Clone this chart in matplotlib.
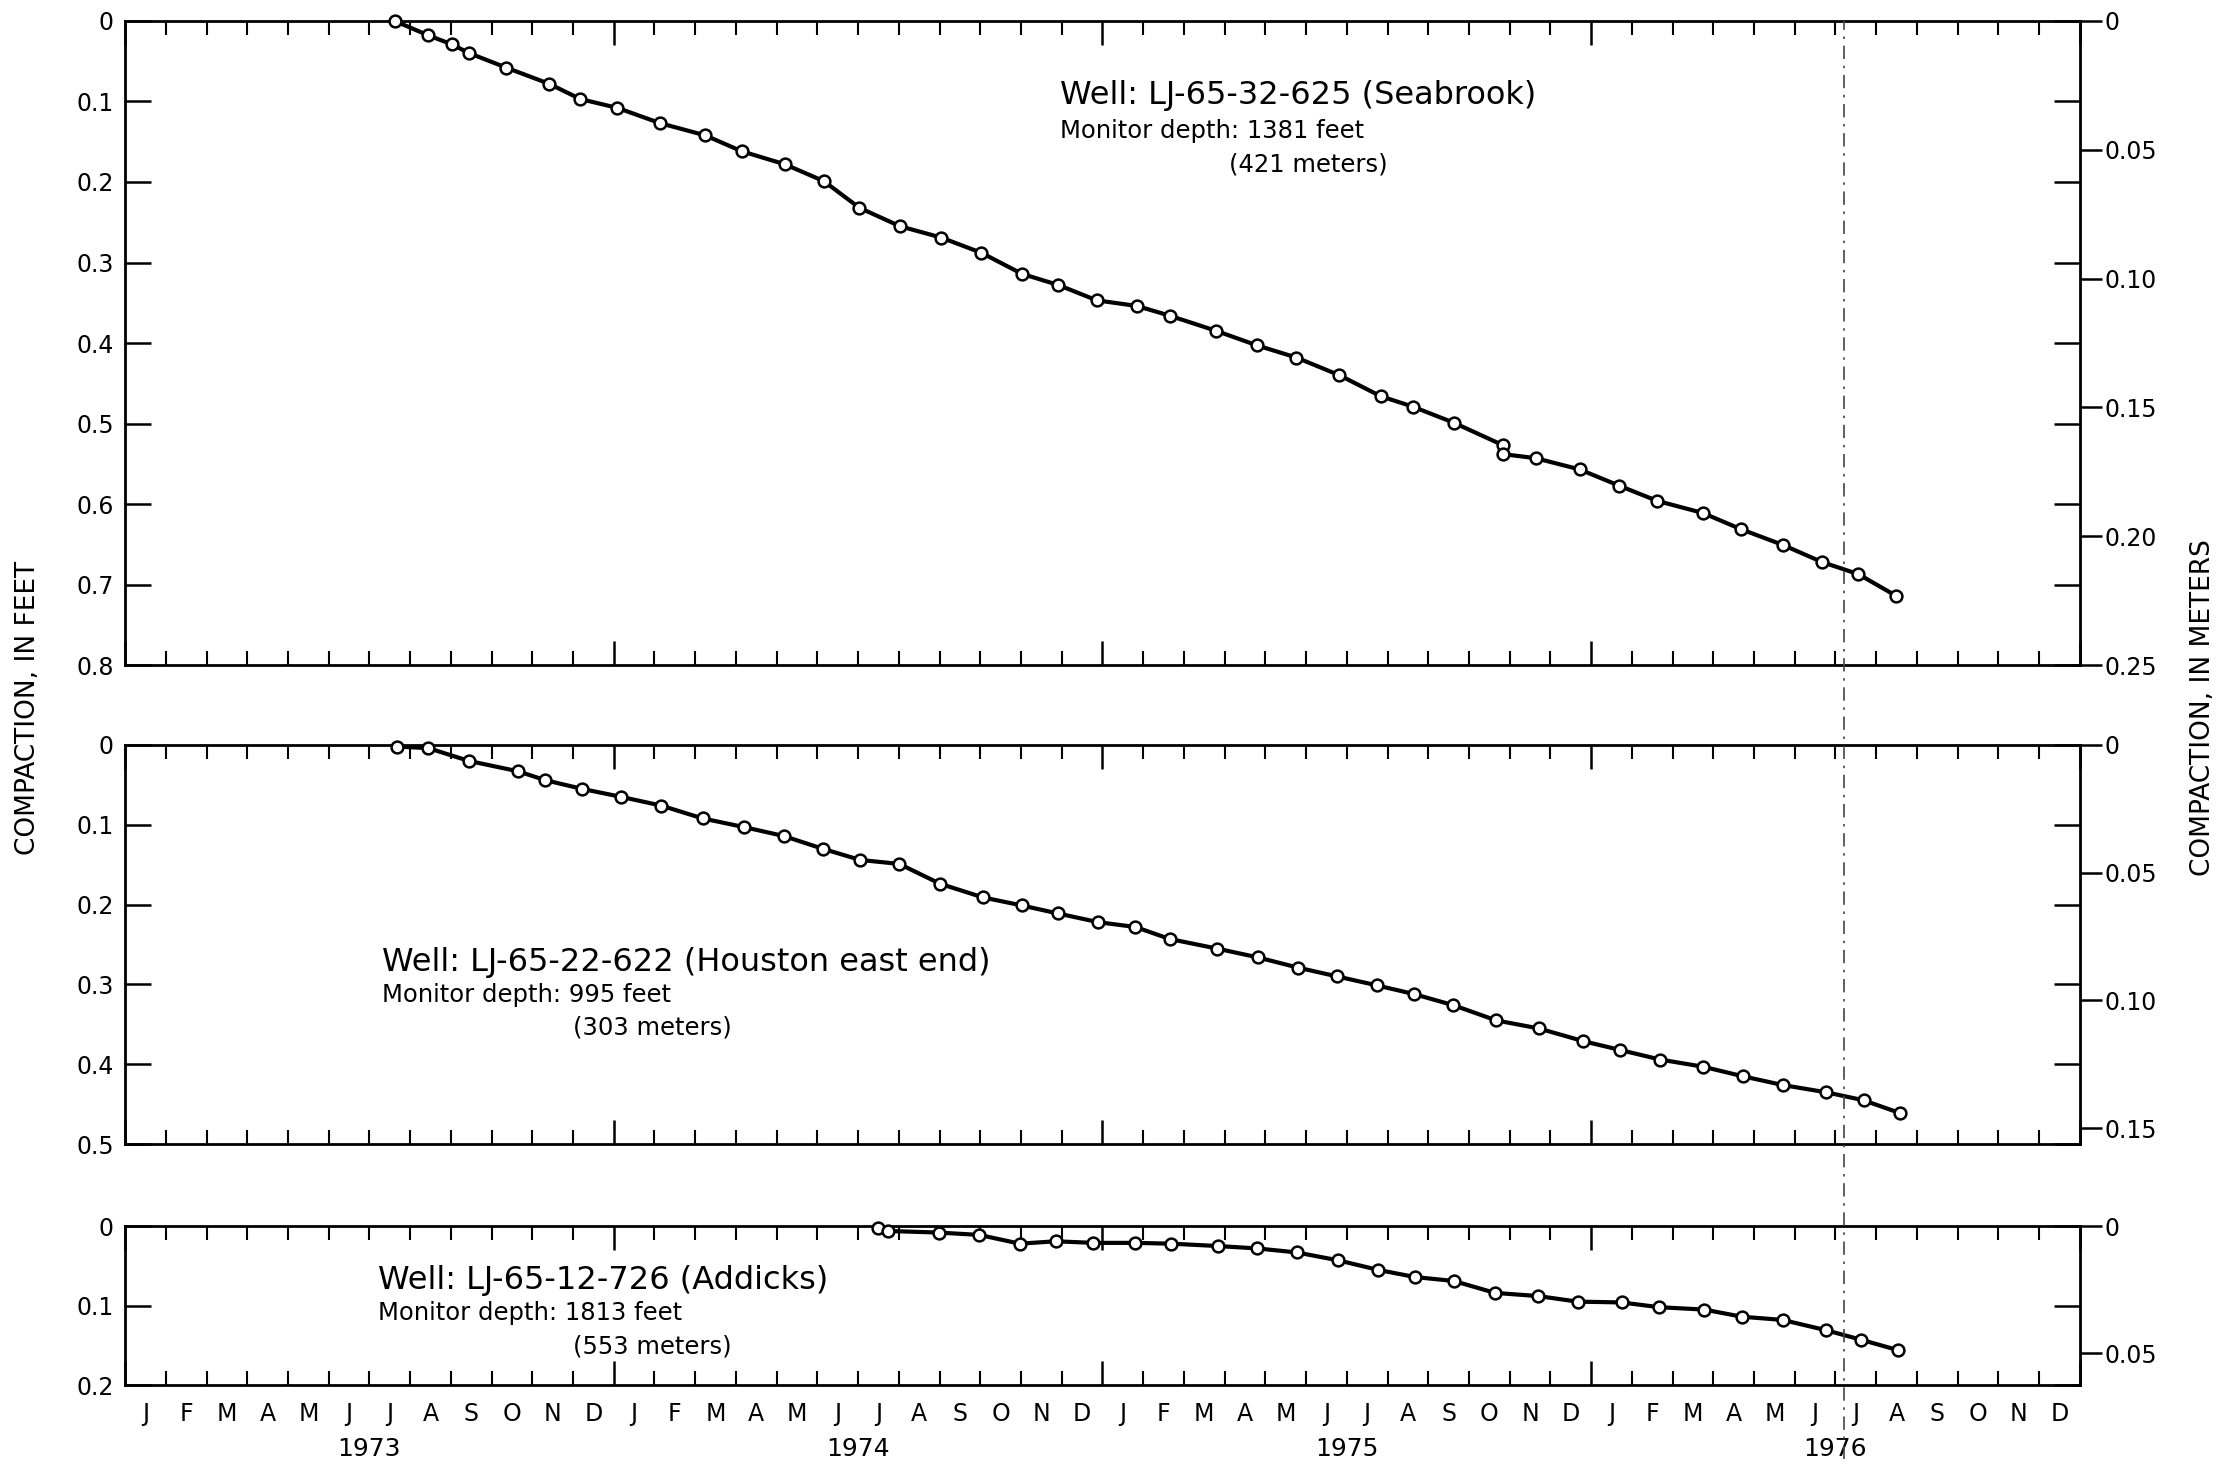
import matplotlib
matplotlib.use("Agg")
import matplotlib.pyplot as plt
from matplotlib.ticker import MultipleLocator, FixedLocator, FuncFormatter
from matplotlib.lines import Line2D
from matplotlib.transforms import blended_transform_factory

# ---------------- data (time = months since 1 Jan 1973) ----------------
month_letters = list("JFMAMJJASOND") * 4
year_labels = ["1973", "1974", "1975", "1976"]

seabrook_t = [6.62, 7.45, 8.02, 8.45, 9.36, 10.41, 11.18, 12.09, 13.14, 14.24,
              15.15, 16.2, 17.16, 18.03, 19.03, 20.04, 21.03, 22.02, 22.92, 23.86,
              24.85, 25.65, 26.8, 27.8, 28.76, 29.82, 30.83, 31.62, 32.63, 33.84,
              33.84, 34.64, 35.72, 36.68, 37.62, 38.74, 39.67, 40.72, 41.67, 42.56,
              43.49]
seabrook_ft = [0.0, 0.018, 0.029, 0.040, 0.058, 0.078, 0.097, 0.108, 0.127, 0.142,
               0.162, 0.178, 0.199, 0.232, 0.255, 0.269, 0.288, 0.314, 0.328, 0.347,
               0.354, 0.366, 0.385, 0.403, 0.418, 0.440, 0.466, 0.479, 0.499, 0.527,
               0.538, 0.543, 0.557, 0.577, 0.596, 0.611, 0.631, 0.651, 0.672, 0.687,
               0.714]

houston_t = [6.68, 7.45, 8.44, 9.65, 10.31, 11.22, 12.18, 13.17, 14.18, 15.21,
             16.17, 17.13, 18.05, 19.01, 20.02, 21.07, 22.02, 22.9, 23.9, 24.81,
             25.65, 26.81, 27.81, 28.81, 29.77, 30.73, 31.65, 32.62, 33.67, 34.71,
             35.81, 36.71, 37.69, 38.75, 39.73, 40.71, 41.77, 42.69, 43.58]
houston_ft = [0.002, 0.004, 0.020, 0.033, 0.044, 0.055, 0.065, 0.076, 0.092, 0.103,
              0.114, 0.130, 0.144, 0.149, 0.174, 0.191, 0.201, 0.211, 0.222, 0.228,
              0.243, 0.255, 0.266, 0.279, 0.290, 0.301, 0.312, 0.326, 0.345, 0.355,
              0.371, 0.382, 0.394, 0.403, 0.415, 0.426, 0.435, 0.445, 0.461]

addicks_t = [18.5, 18.73, 19.98, 20.98, 21.97, 22.85, 23.78, 24.81, 25.69, 26.84,
             27.8, 28.77, 29.79, 30.77, 31.67, 32.63, 33.64, 34.7, 35.67, 36.75,
             37.67, 38.78, 39.7, 40.7, 41.77, 42.63, 43.53]
addicks_ft = [0.002, 0.006, 0.008, 0.011, 0.022, 0.019, 0.021, 0.021, 0.022, 0.025,
              0.028, 0.033, 0.043, 0.055, 0.064, 0.069, 0.084, 0.088, 0.095, 0.096,
              0.102, 0.105, 0.114, 0.118, 0.131, 0.143, 0.156]

panel_ymax_ft = [0.8, 0.5, 0.2]
meter_per_foot_drawn = 0.3125          # right-hand scale as drawn (0.8 ft ~ 0.25 m)
marker_date = 42.2                     # dash-dot reference line (early July 1976)

well_titles = ["Well: LJ-65-32-625 (Seabrook)",
               "Well: LJ-65-22-622 (Houston east end)",
               "Well: LJ-65-12-726 (Addicks)"]
depth_feet = ["Monitor depth: 1381 feet",
              "Monitor depth: 995 feet",
              "Monitor depth: 1813 feet"]
depth_meters = ["(421 meters)", "(303 meters)", "(553 meters)"]

# ---------------- figure ----------------
plt.rcParams["font.family"] = ["DejaVu Sans"]
fig = plt.figure(figsize=(22.22, 14.65), dpi=100)

left, width = 0.0563, 0.8797
rects = [(0.546, 0.4397), (0.219, 0.2725), (0.0546, 0.1084)]
series = [(seabrook_t, seabrook_ft), (houston_t, houston_ft), (addicks_t, addicks_ft)]
# annotation anchors (month, ft) : title, feet line, meters line
ann_pos = [((22.96, 0.093), (22.96, 0.137), (27.1, 0.178)),
           ((6.31, 0.272), (6.31, 0.313), (11.0, 0.354)),
           ((6.22, 0.068), (6.22, 0.109), (11.0, 0.151))]

fmt_ft = FuncFormatter(lambda v, p: "0" if abs(v) < 1e-9 else f"{v:.1f}")
fmt_m = FuncFormatter(lambda v, p: "0" if abs(v) < 1e-9 else f"{v:.2f}")

axes = []
for i, ((b, h), (t, v), ymax) in enumerate(zip(rects, series, panel_ymax_ft)):
    ax = fig.add_axes([left, b, width, h])
    axes.append(ax)
    ax.set_xlim(0, 48)
    ax.set_ylim(ymax, 0)
    for s in ax.spines.values():
        s.set_linewidth(2.0)

    tw = ax.twinx()
    tw.set_ylim(ymax * meter_per_foot_drawn, 0)
    tw.yaxis.set_major_locator(MultipleLocator(0.05))
    tw.yaxis.set_major_formatter(fmt_m)
    tw.tick_params(axis="y", direction="out", length=16, width=1.8,
                   labelsize=17, pad=2)
    for s in tw.spines.values():
        s.set_visible(False)

    ax.yaxis.set_major_locator(MultipleLocator(0.1))
    ax.yaxis.set_major_formatter(fmt_ft)
    ax.tick_params(axis="y", which="major", direction="in", left=True, right=True,
                   labelleft=True, labelright=False, length=19, width=1.8,
                   labelsize=17, pad=8)
    ax.xaxis.set_major_locator(FixedLocator([0, 12, 24, 36, 48]))
    ax.xaxis.set_minor_locator(FixedLocator(range(49)))
    ax.tick_params(axis="x", which="major", direction="in", top=True, bottom=True,
                   length=17, width=1.8, labelbottom=False)
    ax.tick_params(axis="x", which="minor", direction="in", top=True, bottom=True,
                   length=10, width=1.5)

    ax.plot(t, v, "-o", color="black", lw=3.0, ms=8.5, mfc="white", mec="black",
            mew=1.8, clip_on=False, zorder=4)

    (tx, ty), (fx, fy), (mx, my) = ann_pos[i]
    ax.text(tx, ty, well_titles[i], fontsize=23, va="center", ha="left")
    ax.text(fx, fy, depth_feet[i], fontsize=17.5, va="center", ha="left")
    ax.text(mx, my, depth_meters[i], fontsize=17.5, va="center", ha="left")

# month and year labels beneath the bottom panel
axb = axes[-1]
xt = axb.get_xaxis_transform()
for k, letter in enumerate(month_letters):
    axb.text(k + 0.5, -0.18, letter, transform=xt, ha="center", va="center",
             fontsize=17)
for k, yl in enumerate(year_labels):
    axb.text(12 * k + 6, -0.40, yl, transform=xt, ha="center", va="center",
             fontsize=18)

# dash-dot reference line spanning all panels
tr = blended_transform_factory(axb.transData, fig.transFigure)
fig.add_artist(Line2D([marker_date, marker_date], [0.004, 0.986], transform=tr,
                      color="#444444", lw=1.2, linestyle=(0, (8, 4, 1.5, 4)),
                      zorder=1))

fig.text(0.0125, 0.517, "COMPACTION, IN FEET", rotation=90, ha="center",
         va="center", fontsize=19)
fig.text(0.9915, 0.517, "COMPACTION, IN METERS", rotation=90, ha="center",
         va="center", fontsize=19)

fig.savefig("out.png", dpi=100, facecolor="white")
